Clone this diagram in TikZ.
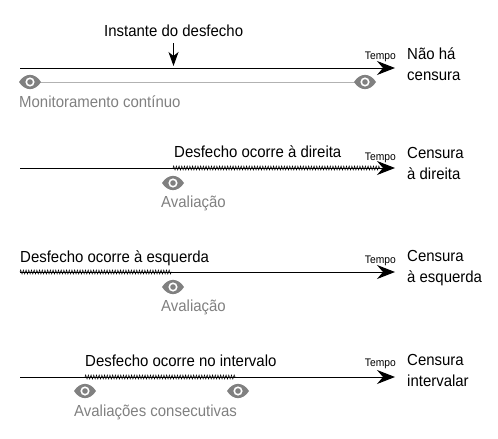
\documentclass[tikz,border=0pt]{standalone}
\usepackage{fontspec}
\setmainfont[FakeStretch=0.935]{Liberation Sans}
\usetikzlibrary{arrows.meta, decorations.pathmorphing}

\definecolor{eyegray}{gray}{0.5}
\tikzset{
    timeline/.style={-{Stealth[length=18pt, width=14pt, inset=6pt]}, line width=1pt},
    censored/.style={line width=0.5pt, decorate,
        decoration={zigzag, amplitude=2pt, segment length=2.7pt}},
    watched/.style={eyegray!60, line width=0.9pt},
    label/.style={anchor=base west, inner sep=0pt, font=\fontsize{16}{18}\selectfont},
    note/.style={label, text=eyegray},
    unit/.style={anchor=base east, inner sep=0pt, font=\fontsize{11}{12}\selectfont},
    eye/.pic={
        \fill[eyegray] (-11, 0) .. controls (-5, -9.5) and (5, -9.5) .. (11, 0)
            .. controls (5, 9.5) and (-5, 9.5) .. (-11, 0) -- cycle;
        \fill[white] (0, 0) circle (4.6);
        \fill[eyegray] (0, 0) circle (2.8);
    },
}

\begin{document}
\begin{tikzpicture}[x=1pt, y=-1pt]
    \useasboundingbox (0, 0) rectangle (498, 439);

    \node[label] (outcome) at (104, 36) {Instante do desfecho};
    \coordinate (start-a) at (20, 68);
    \coordinate (end-a) at (395, 68);
    \coordinate (mark-a) at (173.5, 43);
    \coordinate (hit-a) at (173.5, 66);
    \draw[timeline] (start-a) -- (end-a);
    \draw[-{Stealth[length=14pt, width=10pt, inset=4pt]}, line width=0.9pt] (mark-a) -- (hit-a);
    \node[unit] (tempo-a) at (396, 59) {Tempo};
    \node[label] (right-a) at (407, 59) {Não há};
    \node[label] (below-a) at (407, 80) {censura};
    \coordinate (eye-a1) at (30, 82);
    \coordinate (eye-a2) at (365, 82);
    \draw[watched] (eye-a1) -- (eye-a2);
    \pic at (eye-a1) {eye};
    \pic at (eye-a2) {eye};
    \node[note] (watch-a) at (19, 107) {Monitoramento contínuo};

    \node[label] (outcome-b) at (174, 157) {Desfecho ocorre à direita};
    \coordinate (start-b) at (20, 168);
    \coordinate (end-b) at (395, 168);
    \coordinate (from-b) at (173, 168);
    \coordinate (to-b) at (380, 168);
    \draw[timeline] (start-b) -- (end-b);
    \draw[censored] (from-b) -- (to-b);
    \node[unit] (tempo-b) at (396, 160) {Tempo};
    \node[label] (right-b) at (407, 158) {Censura};
    \node[label] (below-b) at (407, 179) {à direita};
    \coordinate (eye-b) at (173, 183);
    \pic at (eye-b) {eye};
    \node[note] (watch-b) at (161, 207) {Avaliação};

    \node[label] (outcome-c) at (20, 262) {Desfecho ocorre à esquerda};
    \coordinate (start-c) at (20, 272);
    \coordinate (end-c) at (395, 272);
    \coordinate (to-c) at (172, 272);
    \draw[timeline] (start-c) -- (end-c);
    \draw[censored] (start-c) -- (to-c);
    \node[unit] (tempo-c) at (396, 263) {Tempo};
    \node[label] (right-c) at (407, 261) {Censura};
    \node[label] (below-c) at (407, 282) {à esquerda};
    \coordinate (eye-c) at (173, 287);
    \pic at (eye-c) {eye};
    \node[note] (watch-c) at (161, 311) {Avaliação};

    \node[label] (outcome-d) at (85, 366) {Desfecho ocorre no intervalo};
    \coordinate (start-d) at (20, 377);
    \coordinate (end-d) at (395, 377);
    \coordinate (from-d) at (85, 377);
    \coordinate (to-d) at (236, 377);
    \draw[timeline] (start-d) -- (end-d);
    \draw[censored] (from-d) -- (to-d);
    \node[unit] (tempo-d) at (396, 366) {Tempo};
    \node[label] (right-d) at (407, 365) {Censura};
    \node[label] (below-d) at (407, 386) {intervalar};
    \coordinate (eye-d1) at (85, 391);
    \coordinate (eye-d2) at (238, 391);
    \pic at (eye-d1) {eye};
    \pic at (eye-d2) {eye};
    \node[note] (watch-d) at (74, 416) {Avaliações consecutivas};
\end{tikzpicture}
\end{document}
